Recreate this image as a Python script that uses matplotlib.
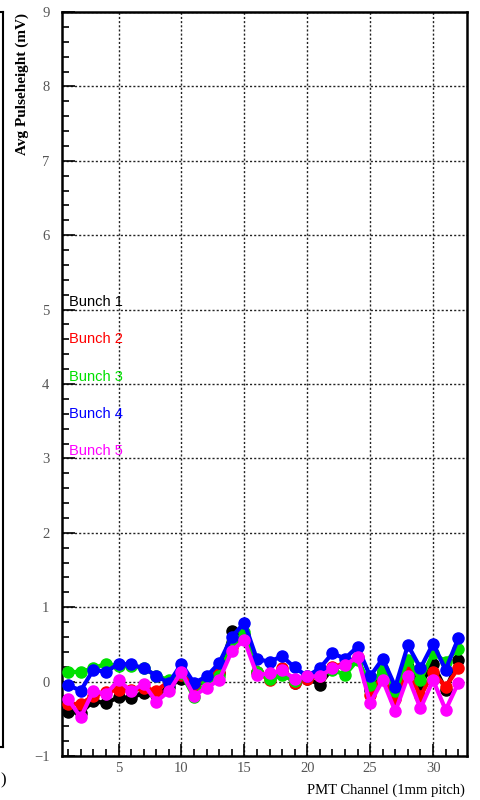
import matplotlib
matplotlib.use("Agg")
import matplotlib.pyplot as plt
from matplotlib.ticker import MultipleLocator
from matplotlib.lines import Line2D

channels = list(range(1, 33))

bunch1 = [-0.41, -0.42, -0.26, -0.29, -0.21, -0.22, -0.15, -0.18, -0.07, 0.04,
          -0.07, 0.02, 0.11, 0.68, 0.62, 0.13, 0.07, 0.13, -0.02, 0.04,
          -0.04, 0.18, 0.22, 0.31, -0.11, 0.13, -0.18, 0.20, -0.04, 0.24,
          -0.11, 0.29]
bunch2 = [-0.30, -0.30, -0.19, -0.14, -0.11, -0.11, -0.09, -0.12, 0.00, 0.09,
          -0.04, 0.04, 0.11, 0.47, 0.60, 0.13, 0.02, 0.18, -0.02, 0.04,
          0.07, 0.20, 0.24, 0.33, -0.18, 0.09, -0.24, 0.16, -0.20, 0.13,
          -0.07, 0.18]
bunch3 = [0.13, 0.13, 0.18, 0.24, 0.21, 0.21, 0.18, 0.08, 0.02, 0.11,
          -0.21, -0.02, 0.07, 0.51, 0.66, 0.13, 0.04, 0.09, 0.01, 0.07,
          0.09, 0.16, 0.09, 0.29, -0.04, 0.16, -0.13, 0.29, 0.02, 0.38,
          0.27, 0.44]
bunch4 = [-0.05, -0.12, 0.16, 0.13, 0.24, 0.23, 0.18, 0.08, -0.02, 0.24,
          -0.02, 0.07, 0.25, 0.60, 0.79, 0.30, 0.27, 0.34, 0.19, 0.07,
          0.18, 0.38, 0.31, 0.47, 0.07, 0.31, -0.07, 0.49, 0.18, 0.51,
          0.16, 0.58]
bunch5 = [-0.24, -0.48, -0.12, -0.17, 0.02, -0.13, -0.03, -0.27, -0.13, 0.13,
          -0.19, -0.08, 0.02, 0.41, 0.56, 0.09, 0.11, 0.15, 0.04, 0.07,
          0.07, 0.18, 0.22, 0.33, -0.29, 0.02, -0.40, 0.07, -0.36, 0.02,
          -0.38, -0.02]

series = [bunch1, bunch2, bunch3, bunch4, bunch5]
labels = ["Bunch 1", "Bunch 2", "Bunch 3", "Bunch 4", "Bunch 5"]
colors = ["#000000", "#ff0000", "#00e000", "#0000ff", "#ff00ff"]
label_y = [5.1, 4.6, 4.1, 3.6, 3.1]

fig = plt.figure(figsize=(4.8, 8.0), dpi=100)
ax = fig.add_axes([0.129, 0.055, 0.844, 0.930])

for vals, c in zip(series, colors):
    ax.plot(channels, vals, color=c, lw=3, marker="o", ms=8, mec=c, mfc=c, zorder=3)

for lab, c, yy in zip(labels, colors, label_y):
    ax.text(1.1, yy, lab, color=c, fontsize=10.5, family="Liberation Sans",
            va="center", ha="left", zorder=4)

ax.set_xlim(0.5, 32.7)
ax.set_ylim(-1, 9)
ax.xaxis.set_major_locator(MultipleLocator(5))
ax.xaxis.set_minor_locator(MultipleLocator(1))
ax.yaxis.set_major_locator(MultipleLocator(1))
ax.yaxis.set_minor_locator(MultipleLocator(0.2))
ax.tick_params(which="both", direction="in", top=False, right=False,
               labelsize=10.5, labelcolor="#555555", color="black")
ax.tick_params(which="major", length=9, width=1.2)
ax.tick_params(which="minor", length=5, width=1.2)
ax.tick_params(axis="x", pad=4)
ax.tick_params(axis="y", pad=9)
for lab in ax.get_xticklabels() + ax.get_yticklabels():
    lab.set_family("Liberation Serif")
ax.grid(True, which="major", color="#222222", ls=(0, (1.5, 1.5)), lw=1.0)
for s in ax.spines.values():
    s.set_linewidth(1.8)

fig.text(0.046, 0.984, "Avg Pulseheight (mV)", rotation=90, ha="center", va="top",
         family="Liberation Serif", fontweight="bold", fontsize=11)
fig.text(0.969, 0.0125, "PMT Channel (1mm pitch)", ha="right", va="center",
         family="Liberation Serif", fontsize=10.5)

# partial frame of neighbouring panel on the left edge
fig.add_artist(Line2D([0.0065, 0.0065], [0.066, 0.985], color="black", lw=1.5,
                      transform=fig.transFigure))
fig.add_artist(Line2D([0.0, 0.0065], [0.985, 0.985], color="black", lw=1.5,
                      transform=fig.transFigure))
fig.add_artist(Line2D([0.0, 0.0065], [0.066, 0.066], color="black", lw=1.5,
                      transform=fig.transFigure))
fig.text(0.0, 0.025, ")", ha="left", va="center", family="Liberation Serif", fontsize=12)

fig.savefig("out.png", dpi=100)
